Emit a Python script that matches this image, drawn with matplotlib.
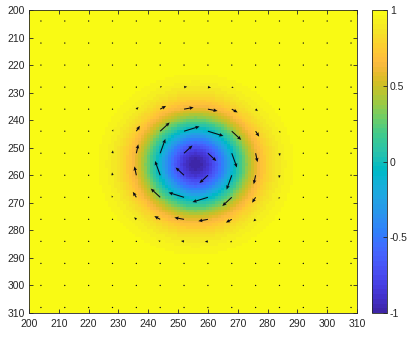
import numpy as np
import matplotlib
matplotlib.use("Agg")
import matplotlib.pyplot as plt
from matplotlib.colors import ListedColormap

# Параметры вихря (оценены по картинке)
center_x = 256.0
center_y = 256.0
sigma2 = 260.0       # ширина гауссова ядра (квадрат)
amp_vel = 0.8        # масштаб скорости (длина стрелки в единицах осей)

# Сетка изображения и сетка стрелок
img_x = np.arange(200, 311)
img_y = np.arange(200, 311)
q_x = np.arange(204, 309, 8)
q_y = np.arange(204, 309, 8)

xticks = np.arange(200, 311, 10)
yticks = np.arange(200, 311, 10)
cticks = [-1, -0.5, 0, 0.5, 1]
cticklabels = ["-1", "-0.5", "0", "0.5", "1"]

# parula (MATLAB R2014b), 64 цвета
parula_data = [
    [0.2422, 0.1504, 0.6603], [0.2504, 0.1650, 0.7076], [0.2578, 0.1818, 0.7511],
    [0.2647, 0.1978, 0.7952], [0.2706, 0.2147, 0.8364], [0.2751, 0.2342, 0.8710],
    [0.2783, 0.2559, 0.8991], [0.2803, 0.2782, 0.9221], [0.2813, 0.3006, 0.9414],
    [0.2810, 0.3228, 0.9579], [0.2795, 0.3447, 0.9717], [0.2760, 0.3667, 0.9829],
    [0.2699, 0.3892, 0.9906], [0.2602, 0.4123, 0.9952], [0.2440, 0.4358, 0.9988],
    [0.2206, 0.4603, 0.9973], [0.1963, 0.4847, 0.9892], [0.1834, 0.5074, 0.9798],
    [0.1786, 0.5289, 0.9682], [0.1764, 0.5499, 0.9520], [0.1687, 0.5703, 0.9359],
    [0.1540, 0.5902, 0.9218], [0.1460, 0.6091, 0.9079], [0.1380, 0.6276, 0.8973],
    [0.1248, 0.6459, 0.8883], [0.1113, 0.6635, 0.8763], [0.0952, 0.6798, 0.8598],
    [0.0689, 0.6948, 0.8394], [0.0297, 0.7082, 0.8163], [0.0036, 0.7203, 0.7917],
    [0.0067, 0.7312, 0.7660], [0.0433, 0.7411, 0.7394], [0.0964, 0.7500, 0.7120],
    [0.1408, 0.7584, 0.6842], [0.1717, 0.7670, 0.6554], [0.1938, 0.7758, 0.6251],
    [0.2161, 0.7843, 0.5923], [0.2470, 0.7918, 0.5567], [0.2906, 0.7973, 0.5188],
    [0.3406, 0.8008, 0.4789], [0.3909, 0.8029, 0.4354], [0.4456, 0.8024, 0.3909],
    [0.5044, 0.7993, 0.3480], [0.5616, 0.7942, 0.3045], [0.6174, 0.7876, 0.2612],
    [0.6720, 0.7793, 0.2227], [0.7242, 0.7698, 0.1910], [0.7738, 0.7598, 0.1646],
    [0.8203, 0.7498, 0.1535], [0.8634, 0.7406, 0.1596], [0.9035, 0.7330, 0.1774],
    [0.9393, 0.7288, 0.2100], [0.9728, 0.7298, 0.2394], [0.9956, 0.7434, 0.2371],
    [0.9970, 0.7659, 0.2199], [0.9952, 0.7893, 0.2028], [0.9892, 0.8136, 0.1885],
    [0.9786, 0.8386, 0.1766], [0.9676, 0.8639, 0.1643], [0.9610, 0.8890, 0.1537],
    [0.9597, 0.9135, 0.1423], [0.9628, 0.9373, 0.1265], [0.9691, 0.9606, 0.1064],
    [0.9769, 0.9839, 0.0805],
]
parula = ListedColormap(parula_data, name="parula")

# Скалярное поле
X, Y = np.meshgrid(img_x, img_y)
R2 = (X - center_x) ** 2 + (Y - center_y) ** 2
field = 1 - 2 * np.exp(-R2 / sigma2)

# Поле скоростей (ротор поля)
QX, QY = np.meshgrid(q_x, q_y)
QR2 = (QX - center_x) ** 2 + (QY - center_y) ** 2
g = amp_vel * np.exp(-QR2 / sigma2)
U = -(QY - center_y) * g
V = (QX - center_x) * g

plt.rcParams['font.family'] = ['Liberation Sans', 'DejaVu Sans']
plt.rcParams['font.size'] = 7.5

fig = plt.figure(figsize=(4.07, 3.37), dpi=100)
ax = fig.add_axes([29 / 407, 24 / 337, 328 / 407, 303 / 337])
cax = fig.add_axes([372 / 407, 24 / 337, 15 / 407, 303 / 337])

im = ax.imshow(field, cmap=parula, vmin=-1, vmax=1, origin='upper',
               extent=[199.5, 310.5, 310.5, 199.5], interpolation='nearest',
               aspect='auto')
ax.quiver(QX, QY, U, V, angles='xy', scale_units='xy', scale=1,
          color='#0a0a14', width=0.0032, headwidth=3.5, headlength=4,
          headaxislength=3.5, minlength=1.4)

ax.set_xlim(200, 310)
ax.set_ylim(310, 200)
ax.set_xticks(xticks)
ax.set_yticks(yticks)
ax.tick_params(direction='in', length=3, width=0.6, top=True, right=True,
               colors='#262626', labelcolor='#262626')
ax.tick_params(axis='x', pad=4)
ax.tick_params(axis='y', pad=3)
for s in ax.spines.values():
    s.set_color('#262626')
    s.set_linewidth(0.6)

cb = fig.colorbar(im, cax=cax, ticks=cticks)
cb.ax.set_yticklabels(cticklabels)
cb.ax.tick_params(direction='in', length=3, width=0.6, colors='#262626',
                  labelcolor='#262626', pad=2)
cb.outline.set_edgecolor('#262626')
cb.outline.set_linewidth(0.6)

fig.savefig("out.png", dpi=100)
